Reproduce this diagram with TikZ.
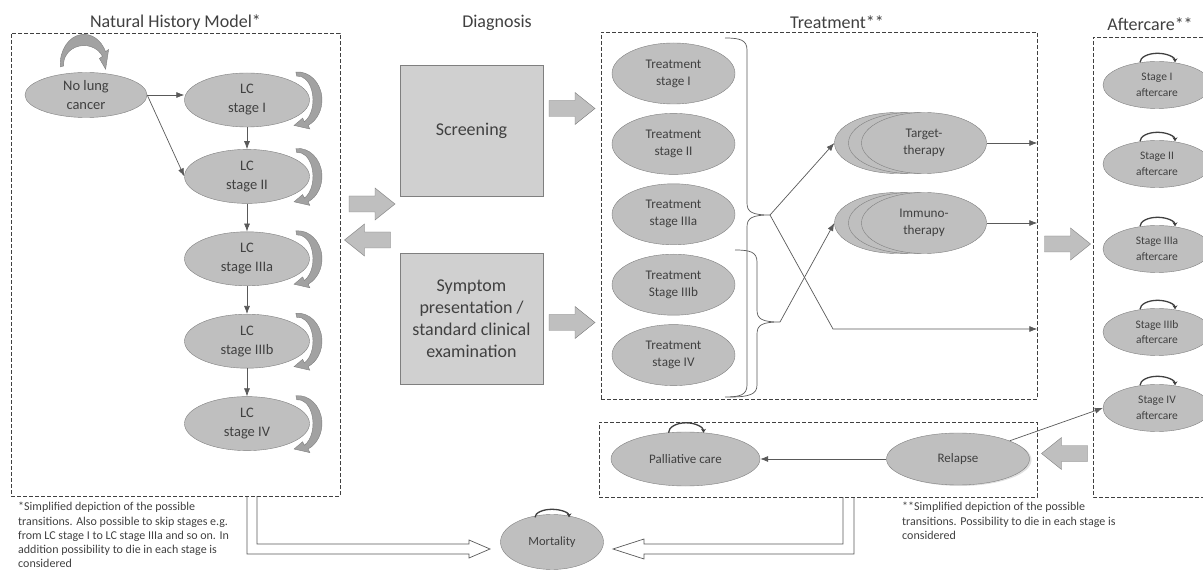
\documentclass[tikz,border=0pt]{standalone}
\usepackage{fontspec}
\setmainfont{Carlito}
\usetikzlibrary{positioning,shapes.geometric,arrows.meta,shadows}

\definecolor{nodefill}{HTML}{BFBFBF}
\definecolor{nodeline}{HTML}{7F7F7F}
\definecolor{boxfill}{HTML}{D0D0D0}
\definecolor{ink}{HTML}{404040}
\definecolor{wire}{HTML}{595959}

\tikzset{
  frame/.style={draw=ink, dash pattern=on 4pt off 2pt, line width=0.6pt, inner sep=0pt},
  title/.style={text=ink, inner sep=1pt, font=\fontsize{18}{21}\selectfont},
  state/.style={ellipse, draw=nodeline, fill=nodefill, text=ink, inner sep=0pt, align=center},
  lcstate/.style={state, minimum width=125pt, minimum height=54pt, font=\fontsize{14.5}{19}\selectfont},
  trstate/.style={state, minimum width=123pt, minimum height=61pt, font=\fontsize{13.2}{17}\selectfont},
  thstate/.style={state, minimum width=125pt, minimum height=61pt, font=\fontsize{13.2}{17}\selectfont},
  acstate/.style={state, minimum width=108pt, minimum height=47pt, font=\fontsize{11.5}{15.5}\selectfont},
  diagbox/.style={draw=nodeline, fill=boxfill, text=ink, align=center, minimum width=143pt,
    minimum height=131pt, font=\fontsize{18}{22}\selectfont},
  conn/.style={draw=wire, line width=0.7pt, -{Latex[length=8pt,width=6pt]}},
  brace/.style={draw=wire, line width=0.7pt},
  toploop/.style={draw=ink, line width=1.3pt, -{Stealth[length=4pt,width=5pt]}},
  hollow/.style={draw=wire, fill=white, line width=0.7pt},
  note/.style={text=ink, align=left, inner sep=0pt, font=\fontsize{12}{14.3}\selectfont},
  blockarrow/.pic={
    \filldraw[fill=nodefill, draw=nodeline] (-23,-8) -- (3,-8) -- (3,-16) -- (23,0)
      -- (3,16) -- (3,8) -- (-23,8) -- cycle;
  },
  selfloop/.pic={
    \filldraw[fill=nodefill!85!black, draw=nodeline]
      (95:24 and 28) arc[start angle=95, end angle=-65, x radius=24, y radius=28]
      -- (-65:28 and 32) -- (-102:19 and 26) -- (-65:11 and 20) -- (-65:15 and 24)
      arc[start angle=-65, end angle=95, x radius=15, y radius=24] -- cycle;
  }
}

\begin{document}
\begin{tikzpicture}[x=1pt,y=1pt]
  \useasboundingbox (0,0) rectangle (1203,571);

  % mortality arrows
  \draw[hollow] (247,75) -- (247,17) -- (469,17) -- (469,13) -- (490,22) -- (469,31)
    -- (469,27) -- (257,27) -- (257,75);
  \draw[hollow] (854,74) -- (854,17) -- (644,17) -- (644,12) -- (613,22) -- (644,32)
    -- (644,27) -- (843,27) -- (843,74);

  % frames
  \node[frame, minimum width=329pt, minimum height=463pt] (nhm) at (175.5,306.5) {};
  \node[frame, minimum width=436pt, minimum height=367pt] (trt) at (819,355.5) {};
  \node[frame, minimum width=438pt, minimum height=75pt] (relbox) at (818,111.5) {};
  \draw[frame] (1203,534) -- (1093,534) -- (1093,74) -- (1203,74);

  \node[title, above=1pt of nhm] {Natural History Model*};
  \node[title] at (497,548) {Diagnosis};
  \node[title] at (837,549) {Treatment**};
  \node[title] at (1150,547) {Aftercare**};

  % natural history
  \node[lcstate, minimum width=122pt, minimum height=45pt] (nolc) at (86,476) {No lung\\cancer};
  \node[lcstate] (lc1) at (247,471) {LC\\stage I};
  \node[lcstate, below=22pt of lc1] (lc2) {LC\\stage II};
  \node[lcstate, below=28pt of lc2] (lc3) {LC\\stage IIIa};
  \node[lcstate, below=28pt of lc3] (lc4) {LC\\stage IIIb};
  \node[lcstate, below=28pt of lc4] (lc5) {LC\\stage IV};

  \pic[xscale=0.85, yscale=1.25, rotate=90] at ([xshift=-2pt, yshift=8pt]nolc.north) {selfloop};
  \foreach \n in {1,...,5} {
    \pic at ([xshift=51pt]lc\n.center) {selfloop};
  }
  \draw[conn] (nolc.east) -- (nolc.east -| lc1.west);
  \draw[conn] (nolc.east) -- (lc2.west);
  \foreach \a/\b in {1/2,2/3,3/4,4/5} {
    \draw[conn] (lc\a) -- (lc\b);
  }

  % diagnosis
  \node[diagbox] (scr) at (471.5,440.5) {Screening};
  \node[diagbox] (sym) at (471.5,252.5) {Symptom\\presentation /\\standard clinical\\examination};
  \pic at (372,367) {blockarrow};
  \pic[rotate=180] at (367.5,331) {blockarrow};
  \pic at (572,462.5) {blockarrow};
  \pic at (572,248.5) {blockarrow};

  % treatment
  \node[trstate] (tr1) at (673.5,497.5) {Treatment\\stage I};
  \node[trstate, below=9pt of tr1] (tr2) {Treatment\\stage II};
  \node[trstate, below=9pt of tr2] (tr3) {Treatment\\stage IIIa};
  \node[trstate, below=9pt of tr3] (tr4) {Treatment\\Stage IIIb};
  \node[trstate, below=9pt of tr4] (tr5) {Treatment\\stage IV};

  \coordinate (tipA) at (770,356);
  \coordinate (tipB) at (780,249);
  \coordinate (bend) at (833,242);
  \draw[brace] (725,533) .. controls (740,533) and (747,531) .. (747,521) -- (747,368)
    .. controls (747,359) and (752,356) .. (tipA) .. controls (752,356) and (747,353) .. (747,344)
    -- (747,186) .. controls (747,176) and (740,174) .. (725,174);
  \draw[brace] (735,321) .. controls (750,321) and (757,319) .. (757,309) -- (757,261)
    .. controls (757,252) and (762,249) .. (tipB) .. controls (762,249) and (757,246) .. (757,237)
    -- (757,186) .. controls (757,177) and (750,174) .. (730,174);

  \node[thstate] (tt1) at (897,428) {};
  \node[thstate] (tt2) at (911,428) {};
  \node[thstate] (tt) at (924,428) {Target-\\therapy};
  \node[thstate] (it1) at (897,348) {};
  \node[thstate] (it2) at (911,348) {};
  \node[thstate] (it) at (924,348) {Immuno-\\therapy};

  \draw[conn] (tipA) -- (tt1.west);
  \draw[conn] (tipB) -- (it1.west);
  \draw[conn] (tipA) -- (bend) -- (bend -| trt.east);
  \draw[conn] (tt.east) -- (tt.east -| trt.east);
  \draw[conn] (it.east) -- (it.east -| trt.east);

  % aftercare
  \pic at (1067.5,327) {blockarrow};
  \foreach \n/\y/\t in {1/486/Stage I,2/407/Stage II,3/322/Stage IIIa,4/239/Stage IIIb,5/163/Stage IV} {
    \node[acstate] (ac\n) at (1157,\y) {\t\\aftercare};
    \draw[toploop] ([xshift=-17pt, yshift=-1pt]ac\n.north) arc[start angle=180, end angle=0, x radius=17.5, y radius=9];
  }

  % relapse and palliative care
  \pic[rotate=180] at (1064.5,117.5) {blockarrow};
  \node[state, minimum width=143pt, minimum height=52pt, font=\fontsize{13}{16}\selectfont,
    drop shadow={shadow xshift=2pt, shadow yshift=-1pt, opacity=0.25}] (rel) at (958,112) {Relapse};
  \node[state, minimum width=149pt, minimum height=54pt, font=\fontsize{13}{16}\selectfont] (pal) at (685.5,112) {Palliative care};
  \draw[toploop] ([xshift=-17pt, yshift=-1pt]pal.north) arc[start angle=180, end angle=0, x radius=17.5, y radius=10];
  \draw[conn] (rel) -- (pal);
  \draw[conn] (rel) -- (ac5.west);

  % mortality
  \node[state, minimum width=103pt, minimum height=55pt, font=\fontsize{12.5}{15}\selectfont] (mort) at (552,29) {Mortality};
  \draw[toploop] ([xshift=-17pt, yshift=-3pt]mort.north) arc[start angle=180, end angle=0, x radius=17, y radius=8];

  % notes
  \node[note, anchor=north west] (note1) at (18,69) {*Simplified depiction of the possible\\
    transitions. Also possible to skip stages e.g.\\
    from LC stage I to LC stage IIIa and so on. In\\
    addition possibility to die in each stage is\\
    considered};
  \node[note, anchor=north west] (note2) at (902,69) {**Simplified depiction of the possible\\
    transitions. Possibility to die in each stage is\\
    considered};
\end{tikzpicture}
\end{document}
